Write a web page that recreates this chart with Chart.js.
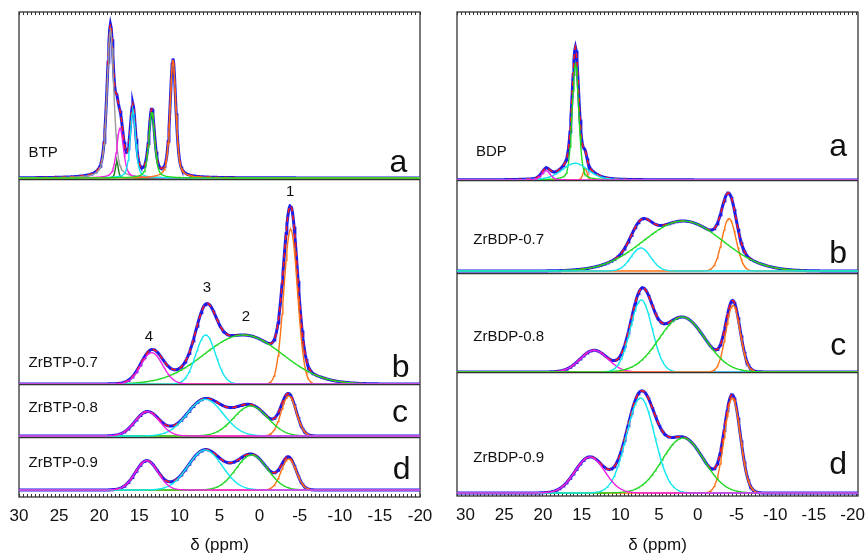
<!DOCTYPE html>
<html lang="en">
<head>
<meta charset="UTF-8">
<title>Solid-state NMR spectra: BTP / BDP series</title>
<script src="https://cdn.jsdelivr.net/npm/chart.js"></script>
<style>
  body { margin: 0; background: #ffffff; }
  .wrap { position: relative; width: 866px; height: 554px; }
  canvas { position: absolute; top: 0; }
  #left { left: 0; }
  #right { left: 433px; }
</style>
</head>
<body>
<div class="wrap">
  <canvas id="left" width="433" height="554"></canvas>
  <canvas id="right" width="433" height="554"></canvas>
</div>
<script>
// axis / labels
const majorTicks = [30, 25, 20, 15, 10, 5, 0, -5, -10, -15, -20];
const letters = ['a', 'b', 'c', 'd'];
const leftNames = ['BTP', 'ZrBTP-0.7', 'ZrBTP-0.8', 'ZrBTP-0.9'];
const rightNames = ['BDP', 'ZrBDP-0.7', 'ZrBDP-0.8', 'ZrBDP-0.9'];
const peakNumbers = ['1', '2', '3', '4'];

// fitted components: centre (ppm), height (a.u.), FWHM (ppm)
const btpCenter = [18.6, 17.8, 17.4, 15.8, 10.8, 13.45];
const btpHeight = [148, 17, 50, 68, 118, 66];
const btpFwhm   = [1.0, 0.4, 1.0, 0.8, 0.85, 0.85];

const zrBtp07Center = [-3.87, 2.03, 6.72, 13.45];
const zrBtp07Height = [154.7, 49, 49, 31.3];
const zrBtp07Fwhm   = [2.0, 11.5, 2.9, 3.2];

const zrBtp08Center = [-3.63, 1.11, 6.8, 14.0];
const zrBtp08Height = [40, 30, 36.7, 24.3];
const zrBtp08Fwhm   = [2.2, 5.0, 5.3, 3.6];

const zrBtp09Center = [-3.63, 0.99, 6.8, 14.08];
const zrBtp09Height = [31, 35, 40, 29.3];
const zrBtp09Fwhm   = [2.2, 4.6, 5.0, 3.3];

const bdpCenter = [14.55, 15.8, 15.85, 19.6];
const bdpHeight = [11.7, 116, 16.7, 9.3];
const bdpFwhm   = [0.6, 1.0, 4.0, 1.3];

const zrBdp07Center = [-4.04, 1.9, 7.36];
const zrBdp07Height = [52.4, 50, 23];
const zrBdp07Fwhm   = [2.15, 12, 3.0];

const zrBdp08Center = [13.4, 7.3, -4.55, 2.03];
const zrBdp08Height = [21.7, 72, 66.7, 55];
const zrBdp08Fwhm   = [4.2, 3.3, 2.15, 7.0];

const zrBdp09Center = [-4.47, 1.9, 7.4, 13.94];
const zrBdp09Height = [95, 55, 95, 36];
const zrBdp09Fwhm   = [2.4, 6.3, 4.3, 4.5];

// colours
const ORANGE = '#ff7316', GREEN = '#20d820', CYAN = '#12e6f0', MAGENTA = '#f020e8';
const GRAY = '#9a9a9a', DKGREEN = '#1d7d1d', BLUE = '#1c1ce8', RED = '#ff1a1a';

// sampling grid (ppm)
const ppmGrid = [];
for (let i = 0; i <= 525; i++) ppmGrid.push(Math.round((31.5 - i * 0.1) * 10) / 10);

function lineShape(x, c, h, w, eta) {
  const d = (x - c) / (w / 2);
  return h * ((1 - eta) * Math.exp(-Math.LN2 * d * d) + eta / (1 + d * d));
}

const leftSpectra = [
  { center: btpCenter, height: btpHeight, fwhm: btpFwhm, eta: 0.5,
    colors: [GRAY, DKGREEN, MAGENTA, CYAN, ORANGE, GREEN] },
  { center: zrBtp07Center, height: zrBtp07Height, fwhm: zrBtp07Fwhm, eta: 0,
    colors: [ORANGE, GREEN, CYAN, MAGENTA] },
  { center: zrBtp08Center, height: zrBtp08Height, fwhm: zrBtp08Fwhm, eta: 0,
    colors: [ORANGE, GREEN, CYAN, MAGENTA] },
  { center: zrBtp09Center, height: zrBtp09Height, fwhm: zrBtp09Fwhm, eta: 0,
    colors: [ORANGE, GREEN, CYAN, MAGENTA] }
];
const rightSpectra = [
  { center: bdpCenter, height: bdpHeight, fwhm: bdpFwhm, eta: 0.3,
    colors: [ORANGE, GREEN, CYAN, MAGENTA] },
  { center: zrBdp07Center, height: zrBdp07Height, fwhm: zrBdp07Fwhm, eta: 0,
    colors: [ORANGE, GREEN, CYAN] },
  { center: zrBdp08Center, height: zrBdp08Height, fwhm: zrBdp08Fwhm, eta: 0,
    colors: [MAGENTA, CYAN, ORANGE, GREEN] },
  { center: zrBdp09Center, height: zrBdp09Height, fwhm: zrBdp09Fwhm, eta: 0,
    colors: [ORANGE, GREEN, CYAN, MAGENTA] }
];

const leftLayout = {
  xMax: 30, xMin: -20,
  padding: { left: 19, right: 13, top: 12, bottom: 0 }, axisHeight: 57,
  weights: [167, 205, 53, 60],
  yMin: [-1, 0, -1, -7], yMax: [166, 205, 52, 53],
  nameAt: [[28.8, 25], [28.8, 21], [28.8, 28], [28.8, 27]],
  letterAt: [[-17.3, 6], [-17.6, 7.3], [-17.5, 14.3], [-17.7, 10.7]],
  marks: [[-3.8, 192], [1.7, 67], [6.56, 96], [13.8, 47]]  // peak numbers in b
};
const rightLayout = {
  xMax: 31.1, xMin: -20.7,
  padding: { left: 24, right: 8, top: 12, bottom: 0 }, axisHeight: 58,
  weights: [168, 93, 99, 124],
  yMin: [0, -2, 0, -3], yMax: [168, 91, 99, 121],
  nameAt: [[28.65, 28], [29.0, 31], [29.0, 35], [29.0, 35]],
  letterAt: [[-18.15, 24], [-18.15, 8.3], [-18.15, 17], [-18.15, 18.7]],
  marks: []
};

const FONT = 'Arial, "Liberation Sans", sans-serif';

const decor = {
  id: 'decor',
  beforeDatasetsDraw(chart) {
    const { ctx, chartArea: a } = chart;
    ctx.save();
    ctx.strokeStyle = '#333';
    ctx.lineWidth = 1.3;
    ctx.strokeRect(a.left, a.top, a.right - a.left, a.bottom - a.top);
    for (let k = 1; k < 4; k++) {
      const y = Math.round(chart.scales['y' + k].top) + 0.5;
      ctx.beginPath();
      ctx.moveTo(a.left, y);
      ctx.lineTo(a.right, y);
      ctx.stroke();
    }
    ctx.restore();
  },
  afterDatasetsDraw(chart, args, opts) {
    const { ctx } = chart;
    const x = chart.scales.x;
    ctx.save();
    ctx.fillStyle = '#111';
    for (let k = 0; k < 4; k++) {
      const y = chart.scales['y' + k];
      ctx.font = '15px ' + FONT;
      ctx.textAlign = 'left';
      ctx.textBaseline = 'middle';
      ctx.fillText(opts.names[k], x.getPixelForValue(opts.nameAt[k][0]), y.getPixelForValue(opts.nameAt[k][1]));
      ctx.font = '32px ' + FONT;
      ctx.textAlign = 'center';
      ctx.textBaseline = 'alphabetic';
      ctx.fillText(letters[k], x.getPixelForValue(opts.letterAt[k][0]), y.getPixelForValue(opts.letterAt[k][1]));
    }
    ctx.font = '15px ' + FONT;
    ctx.textAlign = 'center';
    ctx.textBaseline = 'middle';
    opts.marks.forEach((m, i) => {
      ctx.fillText(peakNumbers[i], x.getPixelForValue(m[0]), chart.scales.y1.getPixelForValue(m[1]));
    });
    ctx.restore();
  }
};

function noSidePadding(sc) {
  sc.paddingLeft = 0;
  sc.paddingRight = 0;
}

function buildPanel(canvasId, spectra, names, layout) {
  const datasets = [];
  spectra.forEach((s, k) => {
    const axis = 'y' + k;
    const comps = s.center.map((c, i) =>
      ppmGrid.map(x => lineShape(x, c, s.height[i], s.fwhm[i], s.eta)));
    const total = ppmGrid.map((x, j) => ({ x, y: comps.reduce((t, cv) => t + cv[j], 0) }));
    datasets.push({ data: total, yAxisID: axis, borderColor: BLUE, borderWidth: 3, order: 100 });
    datasets.push({ data: total, yAxisID: axis, borderColor: RED, borderWidth: 1.5,
      borderDash: [5, 4], order: 99 });
    comps.forEach((cv, i) => {
      datasets.push({
        data: ppmGrid.map((x, j) => ({ x, y: cv[j] })),
        yAxisID: axis, borderColor: s.colors[i], borderWidth: 1.4, order: 50 - i
      });
    });
  });

  const scales = {
    x: {
      type: 'linear', position: 'bottom', reverse: true,
      min: layout.xMin, max: layout.xMax,
      afterFit: (sc) => { sc.height = layout.axisHeight; noSidePadding(sc); },
      grid: { drawOnChartArea: false, tickLength: -3, tickColor: '#333', tickWidth: 1 },
      border: { display: false },
      ticks: {
        stepSize: 0.5, autoSkip: false, maxRotation: 0, includeBounds: false,
        padding: 12, color: '#111', font: { size: 17, family: FONT },
        callback: (v) => majorTicks.includes(v) ? String(v) : ''
      },
      title: { display: true, text: 'δ (ppm)', color: '#111',
        font: { size: 17, family: FONT }, padding: { top: -2, bottom: -2 } }
    },
    xTop: {
      type: 'linear', position: 'top', reverse: true,
      min: layout.xMin, max: layout.xMax,
      afterFit: (sc) => { sc.height = 0; noSidePadding(sc); },
      grid: { drawOnChartArea: false, tickLength: -3, tickColor: '#333', tickWidth: 1 },
      border: { display: false },
      ticks: { stepSize: 0.5, autoSkip: false, includeBounds: false, display: false }
    }
  };
  for (let k = 0; k < 4; k++) {
    scales['y' + k] = {
      type: 'linear', position: 'left', stack: 'spec',
      stackWeight: layout.weights[k], weight: 4 - k,
      min: layout.yMin[k], max: layout.yMax[k],
      afterFit: (sc) => { sc.width = 0; sc.paddingTop = 0; sc.paddingBottom = 0; },
      grid: { display: false }, border: { display: false }, ticks: { display: false }
    };
  }

  return new Chart(document.getElementById(canvasId), {
    type: 'line',
    data: { datasets },
    options: {
      responsive: false, animation: false, devicePixelRatio: 1,
      parsing: false, normalized: true,
      layout: { padding: layout.padding },
      elements: { point: { radius: 0 }, line: { tension: 0, fill: false } },
      plugins: {
        legend: { display: false }, tooltip: { enabled: false },
        decor: { names, nameAt: layout.nameAt, letterAt: layout.letterAt, marks: layout.marks }
      },
      scales
    },
    plugins: [decor]
  });
}

buildPanel('left', leftSpectra, leftNames, leftLayout);
buildPanel('right', rightSpectra, rightNames, rightLayout);
</script>
</body>
</html>
